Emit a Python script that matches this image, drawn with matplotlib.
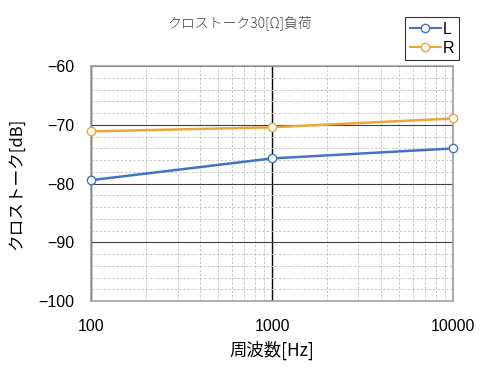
import matplotlib
matplotlib.use('Agg')
import matplotlib.pyplot as plt
from matplotlib.ticker import FixedLocator, NullFormatter

plt.rcParams['font.family'] = ['Noto Sans CJK JP', 'DejaVu Sans']

# ── data ─────────────────────────────────────────────
freq = [100, 1000, 10000]
left_db = [-79.4, -75.7, -74.0]
right_db = [-71.1, -70.4, -68.9]
y_ticks = [-100, -90, -80, -70, -60]
x_ticks = [100, 1000, 10000]
x_tick_labels = ['100', '1000', '10000']

BLUE = '#4472C4'
ORANGE = '#EBA53A'
NUM_FONT = ['Liberation Sans', 'DejaVu Sans']

fig = plt.figure(figsize=(4.8, 3.76), dpi=100)
ax = fig.add_axes([0.19, 0.199, 0.754, 0.625])

ax.plot(freq, left_db, color=BLUE, lw=1.8, marker='o', ms=6,
        mfc='white', mec=BLUE, mew=1.0, label='L', zorder=5, clip_on=False)
ax.plot(freq, right_db, color=ORANGE, lw=1.8, marker='o', ms=6,
        mfc='white', mec=ORANGE, mew=1.0, label='R', zorder=5, clip_on=False)

ax.set_xscale('log')
ax.set_xlim(100, 10000)
ax.set_ylim(-100, -60)

ax.xaxis.set_major_locator(FixedLocator(x_ticks))
ax.set_xticklabels(x_tick_labels, family=NUM_FONT)
minor_x = [m * d for d in (100, 1000) for m in range(2, 10)]
ax.xaxis.set_minor_locator(FixedLocator(minor_x))
ax.xaxis.set_minor_formatter(NullFormatter())
ax.set_yticks(y_ticks)
ax.set_yticklabels(['\u2212' + str(abs(v)) for v in y_ticks], family=NUM_FONT)
ax.yaxis.set_minor_locator(FixedLocator(range(-98, -60, 2)))

ax.grid(which='major', axis='y', color='#404040', lw=0.8)
ax.grid(which='major', axis='x', color='black', lw=1.0)
ax.grid(which='minor', color='#c0c0c0', lw=0.6, ls=(0, (3, 2)))
ax.set_axisbelow(True)

for s in ax.spines.values():
    s.set_color('#a0a0a0')
    s.set_linewidth(1.2)

ax.tick_params(which='both', length=0)
ax.tick_params(axis='y', labelsize=11.5, pad=12)
ax.tick_params(axis='x', labelsize=11.5, pad=13)

ax.set_xlabel('周波数[Hz]', fontsize=12.5, labelpad=5)
ax.set_ylabel('クロストーク[dB]', fontsize=12, labelpad=10)
fig.text(0.5, 0.94, 'クロストーク30[Ω]負荷', ha='center', va='center',
         fontsize=10, color='#404040', fontweight='light')

leg = fig.legend(loc='upper right', bbox_to_anchor=(0.957, 0.955),
                 prop={'family': NUM_FONT, 'size': 11.5},
                 frameon=True, fancybox=False,
                 handlelength=2.0, handletextpad=0.1, borderpad=0.3,
                 labelspacing=0.25, borderaxespad=0)
leg.get_frame().set_edgecolor('black')
leg.get_frame().set_linewidth(0.8)
for line in leg.get_lines():
    line.set_linewidth(1.5)

fig.savefig('out.png', dpi=100)
